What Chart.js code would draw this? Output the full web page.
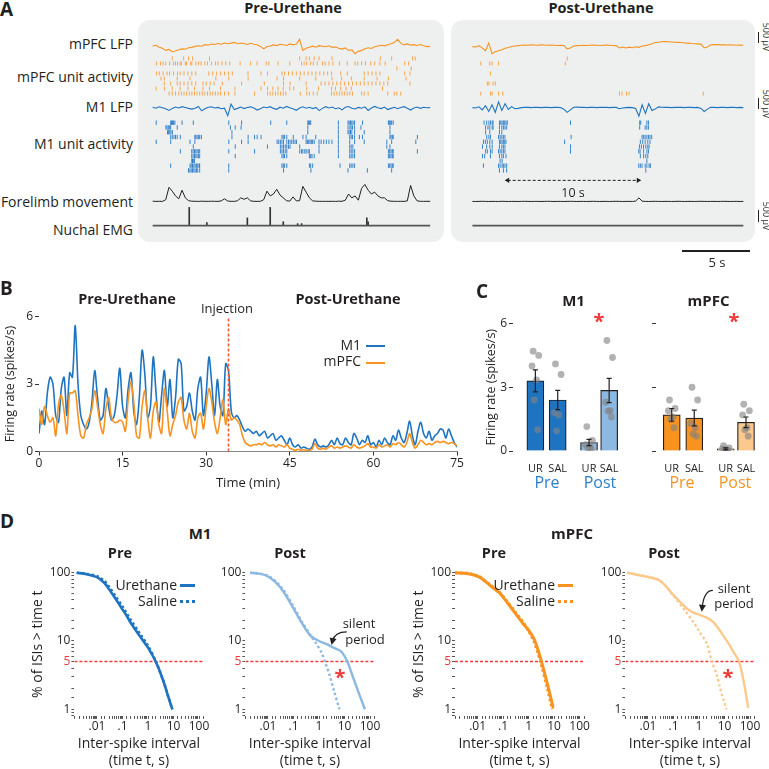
<!DOCTYPE html>
<html>
<head>
<meta charset="utf-8">
<script src="https://cdn.jsdelivr.net/npm/chart.js@4.4.0/dist/chart.umd.min.js"></script>
<style>
  html, body { margin: 0; padding: 0; background: #fff; }
  #fig { position: relative; width: 769px; height: 769px; overflow: hidden; font-family: 'Open Sans', sans-serif; color: #231f20; }
  #fig canvas { position: absolute; }
  .t { position: absolute; white-space: nowrap; line-height: 1; }
  .panel { position: absolute; background: #eef0ef; border-radius: 12px; }
  .seg { position: absolute; height: 0; }
</style>
</head>
<body>
<div id="fig"></div>
<script>
// ---------- panel A : raw traces (sampled every 0.25 s) ----------
const lfpStep = 0.25;
const preMpfcLfp = [0,40,-60,-120,-230,-180,-300,-260,-200,-150,-170,-90,-70,-20,10,-10,70,40,100,80,130,90,160,120,150,190,120,160,130,80,140,90,70,-20,-150,-40,0,60,20,90,70,30,110,60,100,350,-230,-120,-70,-10,-60,20,-10,-40,10,-70,-50,-120,-160,-100,-230,-200,-400,-280,-230,-140,-90,-130,-40,0,40,10,70,120,180,350,150,60,110,40,70,30,80,10,-30,-20];
const preM1Lfp = [20,-30,40,-10,-60,-150,-40,30,-20,50,10,-40,-80,-30,60,-170,-60,20,40,-20,10,-60,-30,-420,180,-100,-40,30,-50,10,40,-20,-130,-60,30,-10,50,-40,-90,20,-30,60,-10,-60,-140,-20,40,-30,20,-50,10,-160,-40,50,-20,30,-60,-10,-120,20,60,-30,-70,10,-30,40,-150,-20,60,-10,-50,30,-100,-40,20,-60,10,50,-30,-130,-20,30,-40,20,-10,0];
const preForelimb = [0.5,0.3,0.4,0.3,2,15,11,6,3,12,4,1,0.5,0.4,0.3,0.5,0.4,0.3,0.5,0.4,0.3,0.8,3,0.6,0.4,0.3,1,4,2.5,4,0.8,0.4,0.3,0.4,2,11,6,8,13,7,4,1,0.6,5,0.8,1,16,10,4,0.8,0.5,0.4,0.3,0.4,0.3,0.4,0.3,0.5,0.4,1.5,8,4,6,1.5,14,18,12,8,10,6,4,4,1,0.5,0.4,0.3,0.4,0.3,0.8,17,6,0.8,0.4,0.3,0.4,0.3];
const preEmgT = [2.8, 4.15, 7.25, 9.0, 10.0, 11.1, 11.4, 16.4, 16.5];
const preEmgH = [19, 3, 8, 19, 4, 2, 2, 8, 4];

const postMpfcLfp = [-30,-50,20,-100,-250,150,-400,-300,-250,-200,-120,-80,-30,0,20,40,50,40,60,50,40,60,50,40,50,40,30,40,30,-150,-100,0,20,30,40,30,40,50,40,30,40,50,40,30,20,-100,-50,-100,-60,-90,-40,-70,0,20,70,120,180,200,220,230,220,210,200,190,180,160,150,130,120,110,100,-100,-50,60,80,70,60,60,50,60,50,40,50,40];
const postM1Lfp = [0,-20,40,-120,100,-200,150,-250,300,-150,200,-100,50,-60,-40,0,20,10,0,20,10,0,10,20,0,10,20,0,-80,-250,-120,20,30,10,20,0,10,20,0,10,20,10,0,10,10,-60,-20,0,10,0,-50,-450,150,-300,200,-150,-80,40,20,10,20,0,10,20,10,0,20,10,0,10,-40,-200,-80,20,10,0,10,20,0,10,20,0,10,0];
const postForelimb = [0.3,0.2,0.3,0.4,0.3,0.2,0.3,0.3,0.2,0.4,0.3,0.2,0.3,0.3,0.2,0.3,0.4,0.3,0.2,0.3,0.3,0.2,0.3,0.4,0.3,0.2,0.3,0.3,0.2,0.3,0.4,0.3,0.2,0.3,0.3,0.2,0.3,0.4,0.3,0.2,0.3,0.3,0.2,0.3,0.4,0.3,0.2,0.3,0.3,0.2,0.6,4,0.5,0.3,0.2,0.3,0.4,0.3,0.2,0.3,0.3,0.2,0.3,0.4,0.3,0.2,0.3,0.3,0.2,0.3,0.4,0.3,0.2,0.3,0.3,0.2,0.3,0.4,0.3,0.2,0.3,0.3,0.2,0.3];
const postEmgT = [];
const postEmgH = [];
const arrowTimes = [2.7, 12.7];

// spike times (s), one list per unit
const preMpfcUnits = [
  [1.5,2.37,2.74,3.06,4.35,11.26,11.75,12.0,12.37,12.74,13.73,17.43,18.3,19.9,20.1],
  [0.3,0.6,0.8,1.0,1.3,1.6,1.75,1.9,2.1,2.2,2.5,2.6,2.9,3.0,3.3,3.5,3.7,4.0,4.2,4.5,4.8,5.0,5.3,5.6,5.9,6.7,7.5,8.0,8.7,8.9,9.6,10.5,11.4,11.6,11.8,12.1,12.3,12.6,13.0,13.2,13.5,13.8,14.3,14.9,15.5,15.7,16.0,16.3,16.7,17.0,17.4,17.8,19.3,19.6],
  [18.7,19.8],
  [0.3,0.5,0.8,1.1,1.3,1.6,1.9,2.1,2.4,2.7,3.0,3.3,4.3,4.6,4.9,5.2,5.5,5.8,6.1,7.3,8.3,8.8,9.9,10.1,10.4,10.7,11.0,11.3,11.6,11.9,12.2,12.5,12.8,13.1,13.4,13.7,14.4,14.9,16.2,16.5,16.8,17.1,17.4,19.3,19.7],
  [0.64,0.89,1.88,2.86,4.84,5.83,7.31,9.53,10.02,11.26,12.49,13.73,14.47,15.21,16.2,17.19,18.05,19.4],
  [0.89,1.38,1.88,2.1,2.4,2.7,3.0,3.3,3.85,4.1,4.4,4.7,5.33,6.81,8.55,10.02,10.52,11.75,12.9,13.2,13.5,13.8,14.1,14.4,14.7,15.0,15.3,15.6,15.9,16.2,16.5,16.8,17.1,17.4,17.7,18.0,19.7],
  [0.27,0.9,1.5,2.1,2.7,3.2,3.85,4.35,5.2,6.3,8.3,8.8,9.2,9.6,10.0,10.5,10.8,11.8,12.7,13.7,14.0,14.4,14.8,15.2,17.6],
  [1.26,1.5,1.75,2.0,2.2,2.4,2.6,2.8,3.0,3.2,3.4,3.6,3.8,4.0,4.2,4.4,4.6,4.8,5.0,5.2,5.5,5.8,6.3,7.8,8.8,9.0,9.2,9.4,9.6,9.8,10.0,10.2,11.3,11.8,12.0,12.3,12.6,13.7,13.9,14.1,14.3,14.5,14.7,14.9,15.1,15.3,16.0,16.2,16.5,18.0,18.5,18.7,19.0]
];
const preM1Units = [
  [0.27,1.38,1.45,1.52,1.6,1.7,2.25,3.11,5.83,6.81,9.04,10.27,11.88,11.95,12.02,12.1,14.22,14.96,15.05,15.15,15.25,15.35,15.46,16.07,18.05,18.12,18.2,18.3,18.42],
  [1.01,1.1,1.2,1.3,1.38,1.88,5.95,6.32,6.77,11.88,14.22,14.96,15.1,15.2,15.3,15.46,15.95,18.17],
  [1.14,1.2,1.3,1.4,1.51,6.07,11.88,14.22,14.96,15.05,15.15,15.25,15.46,16.2,18.17],
  [1.38,1.5,1.63,1.75,1.88,2.12,3.23,3.3,3.4,3.5,3.6,3.73,6.07,7.31,7.8,8.0,8.3,9.9,10.0,10.1,10.27,10.77,11.51,11.75,12.49,14.22,15.09,15.2,15.3,15.46,15.83,16.07,18.17,18.25,18.35,18.42,20.27],
  [0.27,1.38,2.86,3.23,5.83,6.81,7.31,9.53,9.65,9.78,9.9,10.02,10.27,10.4,10.52,10.65,10.77,10.9,11.01,11.75,11.85,11.95,12.05,12.15,12.25,12.37,12.74,12.9,13.1,13.3,13.5,13.73,14.22,15.09,15.46,16.2,17.93,18.3,20.15],
  [3.11,6.32,8.79,9.78,9.9,10.02,10.15,10.27,10.4,10.52,11.26,12.74,14.22,15.09,15.2,15.33,17.93,18.17],
  [2.12,2.99,3.1,3.2,3.3,3.4,3.5,3.6,5.83,7.8,9.78,9.9,10.02,10.15,10.27,11.26,11.4,11.5,11.65,11.75,11.9,12.0,12.74,14.22,15.09,15.2,15.33,15.46,18.05,18.15,18.25,18.35,18.42,20.27],
  [2.99,3.1,3.2,3.3,3.4,3.5,3.6,6.32,9.9,10.0,10.1,10.27,12.0,12.1,12.2,12.37,14.22,15.09,15.2,15.33,15.46,18.05,18.15,18.25,18.35,18.42],
  [2.99,3.05,3.11,3.2],
  [1.38,2.86,2.95,3.05,3.15,3.25,3.35,3.45,3.55,3.6,5.83,9.9,10.0,10.1,10.27,12.0,12.1,12.25,14.35,15.09,15.2,15.33,15.46,18.05,18.15,18.25,18.35,18.42],
  [2.74,2.85,2.95,3.05,3.15,3.25,3.35,3.45,3.6,5.83,10.02,12.12,14.96,16.44,18.3]
];
const postMpfcUnits = [
  [7.26],
  [0.64,1.33,1.51,2.0,7.11],
  [],
  [1.38],
  [],
  [1.14,1.26,1.58,1.75],
  [],
  [0.64,1.38,1.51,2.0,2.32,11.26,11.46,11.8,12.0,17.68]
];
const postM1Units = [
  [0.89,1.09,1.26,1.38,1.51,1.58,2.07,2.17,2.27,2.37,2.47,2.57,2.67,7.51,12.81,12.89,13.36,13.48],
  [1.01,1.19,1.33,1.51,1.58,2.07,2.25,2.37,2.49,2.62,12.81,13.23,13.36,13.48],
  [1.01,1.33,2.07,2.25],
  [1.09,1.26,1.38,2.0,2.12,2.25,2.37,2.49,7.56,12.99,13.11,13.23,13.36,13.48,13.6,13.73],
  [0.84,0.99,1.14,1.33,1.51,2.07,2.17,2.27,2.37,2.47,2.57,7.06,12.86,13.04,13.23,13.43,13.6],
  [0.77,1.09,1.33,1.51,2.07,2.25,2.37,2.49,7.51,12.79,12.94,13.11,13.28,13.43,13.53],
  [1.01,1.14,1.38,1.51,2.0,2.12,2.25,2.37,2.49,7.51,12.74,12.84,13.11,13.36,13.48],
  [0.77,0.94,1.38,2.07,2.25,2.37,2.57,12.86,13.11,13.28,13.43],
  [2.12,2.27,13.36],
  [0.84,2.0,2.12,2.27,2.37,2.49,2.62,12.74,12.86,12.99,13.23,13.36,13.53,13.63],
  [2.07,2.37,2.62,13.28]
];

// ---------- panel B : firing rate, one value every 0.5 min ----------
const rateStep = 0.5;
const rateM1 = [0.8,1.8,1.2,2.6,3.3,3.0,1.6,1.3,2.8,3.3,1.6,3.5,3.3,5.6,3.0,1.6,1.2,1.0,1.3,2.2,3.6,2.4,1.4,1.6,2.8,2.0,1.4,1.6,2.5,3.7,2.0,1.5,2.8,3.5,1.8,1.2,2.4,4.5,3.4,1.5,2.0,4.2,2.6,1.3,2.5,3.6,2.0,3.2,1.5,2.4,4.1,3.9,1.8,2.0,2.6,1.8,1.4,2.8,3.3,1.6,2.6,4.2,3.0,1.6,3.2,2.0,1.6,3.9,3.6,
  1.8,1.5,1.6,1.4,1.1,0.9,1.0,0.9,0.8,0.9,0.7,0.8,0.9,0.6,0.7,0.8,0.5,0.6,0.7,0.5,0.3,0.6,0.3,0.2,0.3,0.15,0.2,0.15,0.1,0.2,0.55,0.3,0.2,0.25,0.2,0.3,0.5,0.3,0.6,0.35,0.3,0.6,0.4,0.3,0.8,0.6,0.3,0.5,0.4,0.7,0.3,0.4,0.2,0.5,0.3,0.6,0.4,0.3,0.7,0.5,0.95,0.6,0.4,0.8,1.35,0.7,0.3,0.9,1.3,0.8,0.6,0.9,0.5,0.7,0.8,1.0,0.95,0.6,1.0,0.7,0.4,0.2];
const rateMpfc = [1.9,1.2,2.0,1.6,1.3,1.5,0.7,2.1,2.5,1.8,0.8,2.6,2.6,2.7,1.6,0.7,0.6,1.2,1.5,1.9,2.7,2.0,1.2,0.8,1.9,2.4,1.5,1.3,1.3,1.4,1.3,0.9,2.3,3.1,2.2,0.7,0.6,2.0,2.7,1.5,0.6,1.8,2.2,1.2,0.8,2.8,1.8,0.7,1.2,1.6,2.2,2.4,1.4,1.0,1.7,0.9,0.6,1.5,1.7,1.0,2.0,2.8,2.2,1.3,0.8,1.5,2.3,1.2,1.9,
  1.4,1.5,1.4,1.2,0.7,0.4,0.3,0.25,0.3,0.3,0.35,0.3,0.4,0.3,0.25,0.3,0.2,0.3,0.25,0.2,0.3,0.15,0.1,0.05,0.1,0.05,0.08,0.05,0.05,0.1,0.35,0.15,0.1,0.15,0.1,0.2,0.25,0.15,0.2,0.15,0.2,0.25,0.2,0.15,0.3,0.2,0.15,0.2,0.25,0.35,0.2,0.2,0.15,0.3,0.2,0.25,0.3,0.2,0.35,0.3,0.4,0.3,0.2,0.4,0.8,0.4,0.15,0.3,0.5,0.4,0.3,0.35,0.3,0.4,0.45,0.4,0.45,0.4,0.35,0.4,0.35,0.25];
const injectionTime = 34;
const rateTicksX = [0, 15, 30, 45, 60, 75];
const rateTicksY = [0, 3, 6];

// ---------- panel C : mean rates ----------
const barLabels = ['UR', 'SAL', 'UR', 'SAL'];
const m1Mean = [3.3, 2.4, 0.4, 2.85];
const m1Sem = [0.52, 0.45, 0.15, 0.57];
const m1Dots = [[4.7,4.5,4.0,3.35,2.4,1.0],[4.1,3.6,1.8,1.7,0.95],[1.15,0.5,0.3,0.2,0.12,0.08],[5.2,4.4,2.3,1.9,1.88,1.6]];
const mpfcMean = [1.7, 1.55, 0.1, 1.35];
const mpfcSem = [0.3, 0.37, 0.05, 0.25];
const mpfcDots = [[2.4,2.0,1.9,1.6,1.5,1.1],[3.0,2.4,1.3,1.1,0.8,0.7],[0.25,0.15,0.1,0.05,0.04,0.02],[2.2,1.9,1.7,1.1,1.0,0.7]];

// ---------- panel D : ISI survival curves (% of ISIs > t) ----------
const m1PreUrT = [0.0016,0.004,0.01,0.02,0.03,0.05,0.1,0.15,0.2,0.5,1,2,4,6,9];
const m1PreUr  = [100,95,86,70,57,43,29,23,19,11.5,8,5,2.6,1.6,1];
const m1PreSalT = [0.0016,0.004,0.01,0.02,0.03,0.05,0.1,0.15,0.2,0.5,1,2,4,6,9];
const m1PreSal  = [100,96,89,75,62,47,32,25,21,12.5,8.5,5.1,2.6,1.6,1];
const m1PostUrT = [0.002,0.005,0.01,0.02,0.04,0.1,0.2,0.44,1,2,3.2,5,7.8,12.9,20,30,45,63];
const m1PostUr  = [100,96,88,72,53,30,19,12.2,10,9,8.2,7.6,6.9,5,3.2,2.1,1.4,1];
const m1PostSalT = [0.002,0.005,0.01,0.02,0.04,0.1,0.2,0.44,0.8,1.2,1.7,2.5,4,6.3];
const m1PostSal  = [100,97,90,75,56,32,20,12.5,9,7,5,3.3,1.8,1];
const mpfcPreUrT = [0.0013,0.005,0.012,0.0225,0.04,0.075,0.15,0.34,0.6,1,1.77,3.2,5.9,9.2];
const mpfcPreUr  = [100,96,86,72,60,50,36,24,18,14.4,10,5,2.1,1.05];
const mpfcPreSalT = [0.0013,0.005,0.012,0.0225,0.04,0.075,0.15,0.34,0.6,1,1.7,3.0,5.5,8.5];
const mpfcPreSal  = [100,97,87,73,62,51,37,25,19,14,9.5,4.8,2,1];
const mpfcPostUrT = [0.0015,0.009,0.03,0.1,0.2,0.33,0.6,1.1,2,3.6,6,8.9,15,22,37,55,85];
const mpfcPostUr  = [100,87,76,47,36,30,26,24,22,19,15,12,9,7,5,2.7,1.05];
const mpfcPostSalT = [0.0015,0.009,0.03,0.1,0.3,0.6,1,2,3.2,5,6.6,9,12];
const mpfcPostSal  = [100,88,76,46,27,19,14,9.2,5,3.2,2.1,1.4,1];
const isiCut = 5;
const isiTickText = ['.01', '.1', '1', '10', '100'];
const isiYText = { 1: '1', 5: '5', 10: '10', 100: '100' };

// colours
const BLUE = '#1f74c2', BLUE_LIGHT = '#8cb8e2', ORANGE = '#f7931e', ORANGE_LIGHT = '#fbc98c';
const RED = '#f23a3a', INK = '#231f20';

Chart.defaults.font.family = "'Open Sans', sans-serif";
Chart.defaults.color = INK;
Chart.defaults.animation = false;
Chart.defaults.responsive = false;
Chart.defaults.plugins.legend.display = false;
Chart.defaults.plugins.tooltip.enabled = false;
Chart.defaults.events = [];

// curved "silent period" arrow, anchored in data coordinates
Chart.register({
  id: 'curvedArrow',
  afterDatasetsDraw(chart, args, opts) {
    if (!opts || !opts.from) return;
    const xs = chart.scales.x, ys = chart.scales.y, c = chart.ctx;
    const x0 = xs.getPixelForValue(opts.from[0]), y0 = ys.getPixelForValue(opts.from[1]);
    const x1 = xs.getPixelForValue(opts.to[0]), y1 = ys.getPixelForValue(opts.to[1]);
    const cx = x1 + (x0 - x1) * 0.2, cy = y0;
    const a = Math.atan2(y1 - cy, x1 - cx);
    c.save();
    c.strokeStyle = INK; c.fillStyle = INK; c.lineWidth = 1.2;
    c.beginPath(); c.moveTo(x0, y0);
    c.quadraticCurveTo(cx, cy, x1 - 4 * Math.cos(a), y1 - 4 * Math.sin(a)); c.stroke();
    c.beginPath(); c.moveTo(x1, y1);
    c.lineTo(x1 - 7 * Math.cos(a) + 3.5 * Math.sin(a), y1 - 7 * Math.sin(a) - 3.5 * Math.cos(a));
    c.lineTo(x1 - 7 * Math.cos(a) - 3.5 * Math.sin(a), y1 - 7 * Math.sin(a) + 3.5 * Math.cos(a));
    c.closePath(); c.fill();
    c.restore();
  }
});

const fig = document.getElementById('fig');

function makeCanvas(left, top, w, h, parent) {
  const c = document.createElement('canvas');
  c.width = w; c.height = h;
  c.style.left = left + 'px'; c.style.top = top + 'px';
  c.style.width = w + 'px'; c.style.height = h + 'px';
  (parent || fig).appendChild(c);
  return c.getContext('2d');
}

function txt(s, x, y, o = {}) {
  const d = document.createElement('div');
  d.className = 't';
  d.textContent = s;
  const tx = o.align === 'right' ? '-100%' : o.align === 'left' ? '0' : '-50%';
  d.style.left = x + 'px'; d.style.top = y + 'px';
  d.style.transform = `translate(${tx},-50%)`;
  d.style.fontSize = (o.size || 13) + 'px';
  if (o.bold) d.style.fontWeight = 'bold';
  if (o.color) d.style.color = o.color;
  if (o.vertical) d.style.writingMode = 'vertical-rl';
  fig.appendChild(d);
}

function seg(x, y, w, color, style, thick) {
  const d = document.createElement('div');
  d.className = 'seg';
  d.style.left = x + 'px'; d.style.top = (y - thick / 2) + 'px'; d.style.width = w + 'px';
  d.style.borderTop = `${thick}px ${style} ${color}`;
  fig.appendChild(d);
}

function vbar(x, y0, y1) {
  const d = document.createElement('div');
  d.style.cssText = `position:absolute;left:${x}px;top:${y0}px;width:1.5px;height:${y1 - y0}px;background:${INK}`;
  fig.appendChild(d);
}

// ================= A =================
const ROW = { mpfcLfp: 22, mpfcUnit: 35, mpfcGap: 5.25, m1Lfp: 86.5, m1Unit: 102.3, m1Gap: 5, limb: 185, emg: 210, arrow: 162.7 };
const LFP_GAIN = 0.02;   // px per µV (500 µV = 10 px)

const trace = (vals, base, gain) => vals.map((v, i) => ({ x: i * lfpStep, y: base - v * gain }));
const raster = (rows, base, gap) => rows.flatMap((r, k) => r.map(t => ({ x: t, y: base + k * gap })));

function tracePanel(left, width, t0, d) {
  const box = document.createElement('div');
  box.className = 'panel';
  box.style.cssText += `left:${left}px;top:20px;width:${width}px;height:222px;`;
  fig.appendChild(box);
  const ctx = makeCanvas(0, 0, width, 222, box);
  const tEnd = (d.mpfcLfp.length - 1) * lfpStep;
  const datasets = [
    { type: 'line', data: trace(d.mpfcLfp, ROW.mpfcLfp, LFP_GAIN), borderColor: ORANGE, borderWidth: 1.1, pointRadius: 0 },
    { data: raster(d.mpfcUnits, ROW.mpfcUnit, ROW.mpfcGap), pointStyle: 'line', pointRotation: 90, pointRadius: 2, pointBorderColor: '#f8a54c', pointBorderWidth: 1 },
    { type: 'line', data: trace(d.m1Lfp, ROW.m1Lfp, LFP_GAIN), borderColor: BLUE, borderWidth: 1.1, pointRadius: 0 },
    { data: raster(d.m1Units, ROW.m1Unit, ROW.m1Gap), pointStyle: 'line', pointRotation: 90, pointRadius: 2.2, pointBorderColor: 'rgba(35,120,200,0.9)', pointBorderWidth: 1 },
    { type: 'line', data: trace(d.limb, ROW.limb, 1), borderColor: INK, borderWidth: 1, pointRadius: 0 },
    { type: 'line', data: [{ x: 0, y: ROW.emg }, { x: tEnd, y: ROW.emg }], borderColor: '#555', borderWidth: 1.8, pointRadius: 0 },
    { type: 'bar', data: d.emgT.map((t, i) => ({ x: t, y: [ROW.emg, ROW.emg - d.emgH[i]] })), backgroundColor: '#333', barThickness: 1 }
  ];
  if (d.arrow) {
    datasets.push({ type: 'line', data: d.arrow.map(t => ({ x: t, y: ROW.arrow })), borderColor: INK, borderWidth: 1, borderDash: [3, 2],
      pointStyle: 'triangle', pointRadius: 3, pointRotation: c => (c.dataIndex === 0 ? -90 : 90), pointBackgroundColor: INK, pointBorderWidth: 0 });
  }
  new Chart(ctx, {
    type: 'scatter',
    data: { datasets },
    options: {
      layout: { padding: 0 },
      scales: {
        x: { type: 'linear', display: false, offset: false, grid: { offset: false }, min: -t0, max: width / 13.5 - t0 },
        y: { type: 'linear', display: false, min: 0, max: 222, reverse: true }
      }
    }
  });
}

tracePanel(138, 306, 10 / 13.5, { mpfcLfp: preMpfcLfp, m1Lfp: preM1Lfp, limb: preForelimb, emgT: preEmgT, emgH: preEmgH, mpfcUnits: preMpfcUnits, m1Units: preM1Units });
tracePanel(451, 304, 17 / 13.5, { mpfcLfp: postMpfcLfp, m1Lfp: postM1Lfp, limb: postForelimb, emgT: postEmgT, emgH: postEmgH, mpfcUnits: postMpfcUnits, m1Units: postM1Units, arrow: arrowTimes });

txt('A', 0, 9, { align: 'left', size: 19, bold: true });
txt('Pre-Urethane', 293, 8, { size: 14.5, bold: true });
txt('Post-Urethane', 601, 8, { size: 14.5, bold: true });
txt('mPFC LFP', 133, 44, { align: 'right', size: 14 });
txt('mPFC unit activity', 133, 77, { align: 'right', size: 14 });
txt('M1 LFP', 133, 107, { align: 'right', size: 14 });
txt('M1 unit activity', 133, 144, { align: 'right', size: 14 });
txt('Forelimb movement', 133, 202, { align: 'right', size: 14 });
txt('Nuchal EMG', 133, 230, { align: 'right', size: 14 });
txt('10 s', 573, 193, { size: 12.5 });
vbar(757.5, 32, 42.5); txt('500 µV', 766, 37, { size: 9, vertical: true });
vbar(757.5, 98, 108.5); txt('500 µV', 766, 104, { size: 9, vertical: true });
vbar(757.5, 210, 221.5); txt('500 µV', 766, 216, { size: 9, vertical: true });
seg(682, 251, 68, INK, 'solid', 2.5);
txt('5 s', 717, 262, { size: 13 });

// ================= B =================
{
  const ctx = makeCanvas(0, 296, 470, 200);
  new Chart(ctx, {
    type: 'line',
    data: { datasets: [
      { data: [{ x: injectionTime, y: 0 }, { x: injectionTime, y: 6 }], borderColor: '#ee5a35', borderWidth: 1.6, borderDash: [3, 2], pointRadius: 0, order: 0 },
      { data: rateMpfc.map((v, i) => ({ x: i * rateStep, y: v })), borderColor: ORANGE, borderWidth: 1.6, pointRadius: 0, tension: 0.3, order: 1 },
      { data: rateM1.map((v, i) => ({ x: i * rateStep, y: v })), borderColor: BLUE, borderWidth: 1.6, pointRadius: 0, tension: 0.3, order: 2 }
    ] },
    options: {
      layout: { padding: { top: 20.5, right: 13, left: 0, bottom: 0 } },
      scales: {
        x: {
          type: 'linear', min: 0, max: 75,
          afterFit: s => { s.height = 44.5; },
          afterBuildTicks: s => { s.ticks = rateTicksX.map(v => ({ value: v })); },
          ticks: { font: { size: 12 }, padding: 1, maxRotation: 0, autoSkip: false },
          grid: { drawOnChartArea: false, tickLength: 4, color: '#333' },
          border: { display: true, color: '#888', width: 1 },
          title: { display: true, text: 'Time (min)', font: { size: 13 }, padding: { top: 0, bottom: 5 } }
        },
        y: {
          min: 0, max: 6,
          afterFit: s => { s.width = 39; },
          afterBuildTicks: s => { s.ticks = rateTicksY.map(v => ({ value: v })); },
          ticks: { font: { size: 12 }, padding: 2, autoSkip: false },
          grid: { drawOnChartArea: false, tickLength: 4, color: '#333' },
          border: { display: false },
          title: { display: true, text: 'Firing rate (spikes/s)', font: { size: 12.5 }, padding: { top: 3, bottom: 0 } }
        }
      }
    }
  });
}
txt('B', 0, 288, { align: 'left', size: 19, bold: true });
txt('Pre-Urethane', 127, 299, { size: 14.5, bold: true });
txt('Post-Urethane', 348, 299, { size: 14.5, bold: true });
txt('Injection', 227, 308, { size: 13 });
txt('M1', 361, 345, { align: 'right', size: 14 });
txt('mPFC', 361, 361, { align: 'right', size: 14 });
seg(366, 346, 19, BLUE, 'solid', 2.5);
seg(366, 363, 19, ORANGE, 'solid', 2.5);

// ================= C =================
const barPos = [0, 1, 2.4, 3.3];
const dotJitter = [-0.1, 0.15, -0.15, 0.05, -0.05, 0.1];
const BAR_UNIT = 22.5;

function barPanel(left, width, yWidth, xMin, xMax, means, sems, dots, colors, showLabels) {
  const ctx = makeCanvas(left, 300, width, 200);
  const errorSets = sems.map((s, i) => ({
    type: 'line', data: [{ x: barPos[i], y: means[i] - s }, { x: barPos[i], y: means[i] + s }],
    borderColor: INK, borderWidth: 1.2, pointStyle: 'line', pointRadius: 2.5, pointBorderColor: INK, pointBorderWidth: 1.2, order: 0
  }));
  new Chart(ctx, {
    type: 'scatter',
    data: { datasets: [
      ...errorSets,
      { data: dots.flatMap((g, i) => g.map((v, k) => ({ x: barPos[i] + dotJitter[k], y: v }))), pointRadius: 3.4, pointBackgroundColor: 'rgba(130,130,130,0.62)', pointBorderWidth: 0, order: 1 },
      { type: 'bar', data: barPos.map((x, i) => ({ x, y: means[i] })), backgroundColor: colors, borderColor: INK, borderWidth: 1.2, barThickness: 17, order: 2 }
    ] },
    options: {
      layout: { padding: { top: 23.5, right: width - yWidth - (xMax - xMin) * BAR_UNIT, left: 0, bottom: 0 } },
      scales: {
        x: {
          type: 'linear', min: xMin, max: xMax, offset: false,
          afterFit: s => { s.height = 49; },
          afterBuildTicks: s => { s.ticks = barPos.map(v => ({ value: v })); },
          ticks: { font: { size: 11 }, padding: 3, maxRotation: 0, autoSkip: false, callback: (v, i) => barLabels[i] },
          grid: { display: false, offset: false },
          border: { display: false }
        },
        y: {
          min: 0, max: 6,
          afterFit: s => { s.width = yWidth; },
          afterBuildTicks: s => { s.ticks = rateTicksY.map(v => ({ value: v })); },
          ticks: { font: { size: 12 }, padding: 2, autoSkip: false, callback: v => (showLabels ? String(v) : '') },
          grid: { drawOnChartArea: false, tickLength: 4, color: '#333' },
          border: { display: false },
          title: { display: showLabels, text: 'Firing rate (spikes/s)', font: { size: 12.5 }, padding: { top: 14, bottom: 0 } }
        }
      }
    }
  });
}
barPanel(470, 160, 43, -1, 4, m1Mean, m1Sem, m1Dots, [BLUE, BLUE, BLUE_LIGHT, BLUE_LIGHT], true);
barPanel(626, 143, 30, -0.7, 3.8, mpfcMean, mpfcSem, mpfcDots, [ORANGE, ORANGE, ORANGE_LIGHT, ORANGE_LIGHT], false);
txt('C', 476, 291, { align: 'left', size: 19, bold: true });
txt('M1', 573.5, 300, { size: 15, bold: true });
txt('mPFC', 708.5, 300, { size: 15, bold: true });
txt('*', 599, 321, { size: 20, bold: true, color: RED });
txt('*', 734, 321, { size: 20, bold: true, color: RED });
txt('Pre', 547, 482, { size: 16, color: '#2a7fcc' });
txt('Post', 600, 482, { size: 16, color: '#2a7fcc' });
txt('Pre', 682, 482, { size: 16, color: ORANGE });
txt('Post', 735, 482, { size: 16, color: ORANGE });

// ================= D =================
const ISI_MIN = 0.0013, ISI_MAX = 150, ISI_W = 129.1;
const isMatch = (v, ref) => Math.abs(Math.log10(v) - Math.log10(ref)) < 1e-6;

function isiPanel(L, urT, ur, salT, sal, color, width, yTitle, arrow) {
  const left = Math.floor(L) - 50;
  const ctx = makeCanvas(left, 555, 190, 214);
  const pts = (t, p) => t.map((x, i) => ({ x, y: p[i] }));
  new Chart(ctx, {
    type: 'line',
    data: { datasets: [
      { data: pts(urT, ur), borderColor: color, borderWidth: width, pointRadius: 0, tension: 0.3, clip: false, order: 1 },
      { data: pts(salT, sal), borderColor: color, borderWidth: width, borderDash: [2.5, 2.5], pointRadius: 0, tension: 0.3, clip: false, order: 2 },
      { data: [{ x: ISI_MIN, y: isiCut }, { x: ISI_MAX, y: isiCut }], borderColor: RED, borderWidth: 1.4, borderDash: [3, 2], pointRadius: 0, order: 3 }
    ] },
    options: {
      layout: { padding: { top: 17.7, right: 190 - (L - left) - ISI_W, left: 0, bottom: 0 } },
      plugins: { curvedArrow: arrow || {} },
      scales: {
        x: {
          type: 'logarithmic', min: ISI_MIN, max: ISI_MAX,
          afterFit: s => { s.height = 53.1; },
          ticks: {
            font: { size: 12 }, padding: 0, maxRotation: 0, autoSkip: false,
            callback: v => { const e = Math.round(Math.log10(v)); return isMatch(v, Math.pow(10, e)) && e >= -2 ? isiTickText[e + 2] : ''; }
          },
          grid: { drawOnChartArea: false, tickLength: 3, color: '#555' },
          border: { display: false },
          title: { display: true, text: ['Inter-spike interval', '(time t, s)'], font: { size: 14 }, padding: { top: 0, bottom: 0 } }
        },
        y: {
          type: 'logarithmic', min: 0.8, max: 100,
          afterFit: s => { s.width = L - left; },
          ticks: {
            font: { size: 12 }, padding: 1, autoSkip: false,
            callback: v => { for (const k in isiYText) { if (isMatch(v, +k)) return isiYText[k]; } return ''; },
            color: c => (c.tick && isMatch(c.tick.value, isiCut) ? RED : INK)
          },
          grid: { drawOnChartArea: false, tickLength: 3, color: '#555' },
          border: { display: false },
          title: { display: yTitle, text: '% of ISIs > time t', font: { size: 14 }, padding: { top: 6, bottom: 0 } }
        }
      }
    }
  });
}
isiPanel(74.4, m1PreUrT, m1PreUr, m1PreSalT, m1PreSal, BLUE, 2.6, true, null);
isiPanel(245.4, m1PostUrT, m1PostUr, m1PostSalT, m1PostSal, BLUE_LIGHT, 2.4, false, { from: [12.2, 13.6], to: [3.1, 8.7] });
isiPanel(455, mpfcPreUrT, mpfcPreUr, mpfcPreSalT, mpfcPreSal, ORANGE, 3, true, null);
isiPanel(625.4, mpfcPostUrT, mpfcPostUr, mpfcPostSalT, mpfcPostSal, ORANGE_LIGHT, 2.4, false, { from: [3.5, 55], to: [1.28, 26.8] });

txt('D', 0, 521, { align: 'left', size: 19, bold: true });
txt('M1', 200, 533, { size: 15, bold: true });
txt('mPFC', 572, 533, { size: 15, bold: true });
txt('Pre', 120, 553, { size: 14.5, bold: true });
txt('Post', 290, 553, { size: 14.5, bold: true });
txt('Pre', 494, 553, { size: 14.5, bold: true });
txt('Post', 664, 553, { size: 14.5, bold: true });
txt('Urethane', 177, 585, { align: 'right', size: 14 });
txt('Saline', 177, 601, { align: 'right', size: 14 });
seg(180, 585, 15, BLUE, 'solid', 3);
seg(180, 601, 15, BLUE, 'dotted', 3);
txt('Urethane', 555, 585, { align: 'right', size: 14 });
txt('Saline', 555, 601, { align: 'right', size: 14 });
seg(558, 585, 15, ORANGE, 'solid', 3);
seg(558, 601, 15, ORANGE, 'dotted', 3);
txt('silent', 359, 623, { size: 13 });
txt('period', 365, 639, { size: 13 });
txt('silent', 734, 588, { size: 13 });
txt('period', 734, 603, { size: 13 });
txt('*', 340, 677, { size: 20, bold: true, color: RED });
txt('*', 728, 677, { size: 20, bold: true, color: RED });
</script>
</body>
</html>
